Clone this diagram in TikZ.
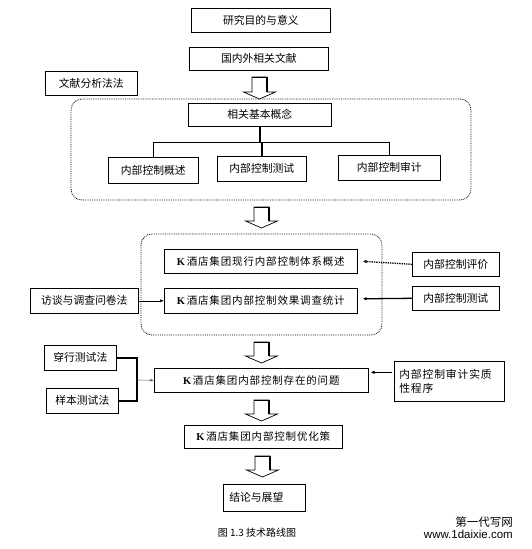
\documentclass[tikz,border=0pt]{standalone}
\usepackage{fontspec}
\setmainfont{Liberation Sans}
\newfontfamily\cjk{Noto Sans CJK SC}
\newfontfamily\cjkw{Noto Sans CJK SC}[LetterSpace=8]
\newfontfamily\latk{Liberation Serif}
\usetikzlibrary{shadows,arrows.meta,calc}
\newcommand{\blockarrow}[4]{%
  \draw[line width=0.7pt,fill=white] (#2-7.5,#3) -- (#2+7.5,#3) -- (#2+7.5,#4-7) -- (#2+16,#4-7) -- (#2,#4) -- (#2-16,#4-7) -- (#2-7.5,#4-7) -- cycle;
  \draw[line width=1.6pt] (#2-7.5,#3+0.5) -- (#2+7.5,#3+0.5) -- (#2+7.5,#4-7.5);
  \coordinate (#1) at (#2,#4);}
\begin{document}
\begin{tikzpicture}[x=1pt,y=-1pt,
  bx/.style={draw=black,line width=0.6pt,fill=white,anchor=north west,inner sep=0pt,
     font=\cjk\fontsize{10.8}{12}\selectfont,
     drop shadow={shadow xshift=1pt,shadow yshift=-1pt,fill=black!80,opacity=1}},
  kbx/.style={bx,font=\cjkw\fontsize{10.5}{12}\selectfont},
  dotbox/.style={draw=black,densely dotted,line width=0.8pt,rounded corners=11pt},
  tree/.style={line width=1.4pt},
  thinarr/.style={line width=0.5pt,-{Latex[length=4pt,width=3pt]}},
  thkarr/.style={line width=1.3pt,-{Latex[length=4pt,width=3.5pt]}},
  dotarr/.style={line width=1.3pt,densely dotted,-{Latex[length=4pt,width=3.5pt]}}]
\useasboundingbox (0,0) rectangle (531,549);
% top
\node[bx,minimum width=139pt,minimum height=24pt] (a1) at (191,8) {研究目的与意义};
\node[bx,minimum width=139pt,minimum height=23pt] (a2) at (189,47) {国内外相关文献};
\node[bx,minimum width=92pt,minimum height=24pt] (m1) at (45,71) {文献分析法法};
\blockarrow{ar1}{259.5}{77}{99}
% dotted group 1
\draw[dotbox] (71,99) rectangle (471,200);
\node[bx,minimum width=143pt,minimum height=23pt] (b0) at (188,103) {相关基本概念};
\node[bx,minimum width=90pt,minimum height=26pt] (b1) at (108,157) {内部控制概述};
\node[bx,minimum width=89pt,minimum height=25pt] (b2) at (217,156) {内部控制测试};
\node[bx,minimum width=102pt,minimum height=25pt] (b3) at (338,155) {内部控制审计};
\coordinate (t0) at ($(b0.south)+(0,16)$);
\draw[tree] (b0.south) -- (t0);
\draw[tree] (b1.north) -- (b1.north |- t0) -- (b3.north |- t0) -- (b3.north);
\draw[tree] (b2.north |- t0) -- (b2.north);
\blockarrow{ar2}{261.5}{207}{228}
% dotted group 2
\draw[dotbox] (141,234) rectangle (382,335);
\node[kbx,minimum width=193pt,minimum height=24pt] (c1) at (164,249) {{\latk\bfseries K}\,酒店集团现行内部控制体系概述};
\node[kbx,minimum width=193pt,minimum height=25pt] (c2) at (164,288) {{\latk\bfseries K}\,酒店集团内部控制效果调查统计};
\node[bx,minimum width=87pt,minimum height=24pt] (r1) at (412,252) {内部控制评价};
\node[bx,minimum width=87pt,minimum height=24pt] (r2) at (412,286) {内部控制测试};
\node[bx,minimum width=108pt,minimum height=25pt] (l1) at (30,288) {访谈与调查问卷法};
\draw[thinarr] (l1.east) -- (c2.west);
\draw[dotarr] (r1.west) -- ($(c1.east)+(5,0)$);
\draw[thkarr] (r2.west) -- ($(c2.east)+(5,-2)$);
\blockarrow{ar3}{261.5}{342}{363}
% lower part
\node[bx,minimum width=72pt,minimum height=25pt] (d1) at (44,345) {穿行测试法};
\node[bx,minimum width=72pt,minimum height=25pt] (d2) at (46,388) {样本测试法};
\node[kbx,minimum width=214pt,minimum height=24pt] (e1) at (154,368) {{\latk\bfseries K}\,酒店集团内部控制存在的问题};
\node[kbx,minimum width=110pt,minimum height=40pt,align=left,text width=100pt,font=\cjkw\fontsize{10.8}{14}\selectfont] (f1) at (394,361) {内部控制审计实质\\性程序};
\coordinate (bk) at (137,380);
\draw[line width=1.5pt] (d1.east) -- (d1.east -| bk) -- (d2.east -| bk) -- (d2.east);
\draw[line width=0.6pt,black!60,-{Latex[length=3.5pt,width=3pt]}] (bk) -- (e1.west);
\draw[thkarr] ($(f1.west)+(-2,-9)$) -- ($(e1.east)+(2,-8)$);
\blockarrow{ar4}{261.5}{400}{421}
\node[kbx,minimum width=158pt,minimum height=23pt] (g1) at (184,425) {{\latk\bfseries K}\,酒店集团内部控制优化策};
\blockarrow{ar5}{262.5}{456}{477}
\node[bx,minimum width=82pt,minimum height=27pt,text width=70pt,align=left] (h1) at (223,484) {结论与展望};
% caption and mark
\node[font=\cjk\fontsize{10}{12}\selectfont] (cap) at (257,533) {图 1.3\ 技术路线图};
\node[font=\cjk\fontsize{11.5}{12}\selectfont,anchor=east,inner sep=0pt] (wm1) at (513,522) {第一代写网};
\node[font=\fontsize{11.5}{12}\selectfont,anchor=east,inner sep=0pt] (wm2) at (513,534) {www.1daixie.com};
\end{tikzpicture}
\end{document}
